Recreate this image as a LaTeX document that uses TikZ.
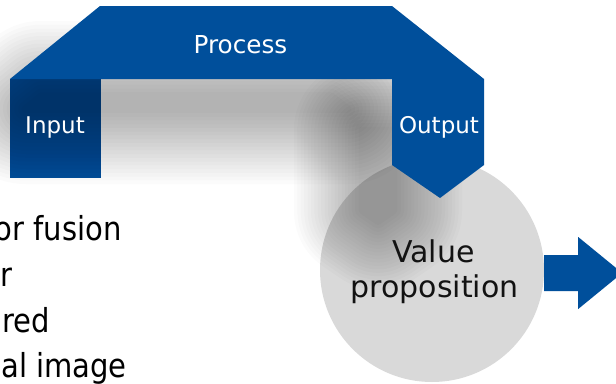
\documentclass[tikz,border=0pt]{standalone}
\usepackage{fontspec}
\setmainfont{DejaVu Sans}
\newfontfamily\leftfont[FakeStretch=0.88]{DejaVu Sans}
\definecolor{procblue}{RGB}{0,79,155}
\definecolor{circgray}{RGB}{217,217,217}
\begin{document}
\begin{tikzpicture}[x=1pt,y=-1pt,
  lefttext/.style={font=\leftfont\fontsize{33}{40}\selectfont, text=black, inner sep=0pt, anchor=base east},
  whitelabel/.style={font=\fontsize{23}{28}\selectfont, text=white, inner sep=0pt, anchor=base},
  vptext/.style={font=\fontsize{30}{36}\selectfont, text=black!93, inner sep=0pt, anchor=base},
  bluefill/.style={fill=procblue, draw=none},
  shadowlayer/.style={fill=black, draw=black, line join=round}
]
\useasboundingbox (0,0) rectangle (616,383);
\fill[white] (0,0) rectangle (616,383);

% left list (cut at the left border)
\node[lefttext] (l1) at (122,240) {or fusion};
\node[lefttext] (l2) at (13,286) {r};
\node[lefttext] (l3) at (50,332) {ared};
\node[lefttext] (l4) at (127,377) {al image};

% input box and value circle (lie under the shadow)
\node[bluefill, minimum width=91pt, minimum height=99pt, inner sep=0pt] (inbox) at (55.5,128.5) {};
\node[circle, fill=circgray, minimum size=224pt, inner sep=0pt] (vp) at (432,270) {};

% outgoing arrow
\fill[procblue] ([yshift=15pt]vp.east) -- ++(34,0) -- ++(0,-18) -- ++(44,36) -- ++(-44,36) -- ++(0,-18) -- ++(-34,0) -- cycle;

% soft shadow, built from stacked translucent layers
\foreach \k in {1,...,20}{
  \begin{scope}[transparency group, opacity=0.017]
    \filldraw[shadowlayer, line width={7.5pt*\k}] (25.5,109) -- (41.5,96) -- (331,96) -- (347.7,109) -- cycle;
  \end{scope}
  \begin{scope}[transparency group, opacity=0.017]
    \filldraw[shadowlayer, line width={6.8pt*\k}] (362,130) -- (394,130) -- (394,210.6) -- (378,221.6) -- (362,210.6) -- cycle;
  \end{scope}
}

% process + output shape
\fill[procblue] (10,79) -- (100,6) -- (392,6) -- (484,79) -- (484,165) -- (440,198) -- (392,165) -- (392,79) -- cycle;

% labels
\node[whitelabel, font=\fontsize{24.7}{30}\selectfont] (proc) at (240.5,53) {Process};
\node[whitelabel] (inp) at (55,133) {Input};
\node[whitelabel] (outp) at (439,133) {Output};
\node[vptext] (vp1) at (433.5,262) {Value};
\node[vptext] (vp2) at (434.5,297) {proposition};
\end{tikzpicture}
\end{document}
